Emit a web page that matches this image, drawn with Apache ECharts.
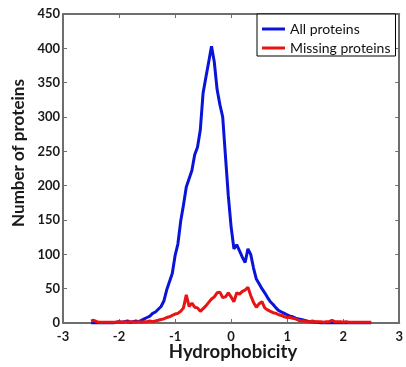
<!DOCTYPE html>
<html><head><meta charset="utf-8">
<script src="https://cdn.jsdelivr.net/npm/echarts@6/dist/echarts.min.js"></script>
<style>html,body{margin:0;padding:0;background:#fff}#c{width:406px;height:367px}</style>
</head><body><div id="c"></div>
<script>
var hydrophobicity = [-2.5,-2.45,-2.4,-2.35,-2.3,-2.25,-2.2,-2.15,-2.1,-2.05,-2,-1.95,-1.9,-1.85,-1.8,-1.75,-1.7,-1.65,-1.6,-1.55,-1.5,-1.45,-1.4,-1.35,-1.3,-1.25,-1.2,-1.15,-1.1,-1.05,-1,-0.95,-0.9,-0.85,-0.8,-0.75,-0.7,-0.65,-0.6,-0.55,-0.5,-0.45,-0.4,-0.35,-0.3,-0.25,-0.2,-0.15,-0.1,-0.05,0,0.05,0.1,0.15,0.2,0.25,0.3,0.35,0.4,0.45,0.5,0.55,0.6,0.65,0.7,0.75,0.8,0.85,0.9,0.95,1,1.05,1.1,1.15,1.2,1.25,1.3,1.35,1.4,1.45,1.5,1.55,1.6,1.65,1.7,1.75,1.8,1.85,1.9,1.95,2,2.05,2.1,2.15,2.2,2.25,2.3,2.35,2.4,2.45,2.5];
var allProteins = [0,0,0,0,0,0,0,0,0,1,2,1,2,3,1,2,3,2,4,6,8,10,14,16,20,24,32,48,60,72,98,115,148,172,198,210,222,245,256,281,335,358,380,403,380,340,318,300,242,185,140,108,114,105,96,88,108,100,80,64,57,50,44,37,31,27,22,18,16,14,12,10,9,7,6,5,4,3,2,2,1,1,0,0,0,0,0,0,0,0,0,0,0,0,0,0,0,0,0,0,0];
var missingProteins = [3,4,2,1,1,1,1,1,1,1,2,1,2,1,2,2,1,2,1,2,2,3,2,3,4,5,6,8,9,11,13,14,17,22,41,24,29,23,22,17,21,25,30,35,38,44,45,37,38,44,38,31,44,42,46,48,52,40,30,23,28,31,22,19,17,15,14,12,11,9,8,8,7,6,4,3,3,2,2,3,2,2,2,1,2,2,4,2,2,2,1,2,1,1,1,1,1,1,1,1,1];
var xTicks = [-3,-2,-1,0,1,2,3];
var yTicks = [0,50,100,150,200,250,300,350,400,450];
var xTitle = 'Hydrophobicity';
var yTitle = 'Number of proteins';

function pairs(v){return hydrophobicity.map(function(x,i){return [x,v[i]];});}
var axisColor = '#6e6e6e';
var lblFont = {fontFamily:'Lato',fontWeight:'bold',fontSize:13,color:'#1a1a1a'};
var tick = {show:true,inside:true,length:4,lineStyle:{color:axisColor}};
var chart = echarts.init(document.getElementById('c'));
chart.setOption({
  animation:false,
  grid:{left:63,right:2,top:14,bottom:44},
  legend:{
    orient:'vertical', left:257, top:14,
    backgroundColor:'#fff', borderColor:'#000', borderWidth:1,
    padding:[8,5,1,5], itemGap:5, itemWidth:23, itemHeight:3,
    icon:'rect',
    textStyle:{fontFamily:'Lato',fontSize:14,color:'#111'},
    data:['All proteins','Missing proteins']
  },
  graphic:[{
    type:'text', left:'center', top:0, z:10,
    x:233, y:352, left:null, top:null,
    style:{text:xTitle, x:0, y:0, align:'center', verticalAlign:'middle',
      font:'bold 18.5px Lato', fill:'#1a1a1a'}
  },{
    type:'text', x:19, y:153, rotation:Math.PI/2, z:10,
    style:{text:yTitle, x:0, y:0, align:'center', verticalAlign:'middle',
      font:'bold 17px Lato', fill:'#1a1a1a'}
  }],
  xAxis:[{
    type:'value', min:xTicks[0], max:xTicks[xTicks.length-1], interval:1,
    axisLine:{show:true,onZero:false,lineStyle:{color:axisColor,width:2}},
    axisTick:tick,
    axisLabel:Object.assign({margin:7},lblFont),
    splitLine:{show:false}
  },{
    type:'value', min:xTicks[0], max:xTicks[xTicks.length-1], interval:1, position:'top',
    axisLine:{show:true,onZero:false,lineStyle:{color:axisColor,width:2}},
    axisTick:tick, axisLabel:{show:false}, splitLine:{show:false}
  }],
  yAxis:[{
    type:'value', min:yTicks[0], max:yTicks[yTicks.length-1], interval:50,
    axisLine:{show:true,onZero:false,lineStyle:{color:axisColor,width:2}},
    axisTick:tick,
    axisLabel:Object.assign({margin:3},lblFont),
    splitLine:{show:false}
  },{
    type:'value', min:yTicks[0], max:yTicks[yTicks.length-1], interval:50, position:'right',
    axisLine:{show:true,onZero:false,lineStyle:{color:axisColor,width:2}},
    axisTick:tick, axisLabel:{show:false}, splitLine:{show:false}
  }],
  series:[{
    name:'All proteins', type:'line', data:pairs(allProteins),
    showSymbol:false, symbol:'none', color:'#0a14d8',
    lineStyle:{width:3,color:'#0a14d8'}, z:2
  },{
    name:'Missing proteins', type:'line', data:pairs(missingProteins),
    showSymbol:false, symbol:'none', color:'#e81414',
    lineStyle:{width:3,color:'#e81414'}, z:3
  }]
});
</script></body></html>
